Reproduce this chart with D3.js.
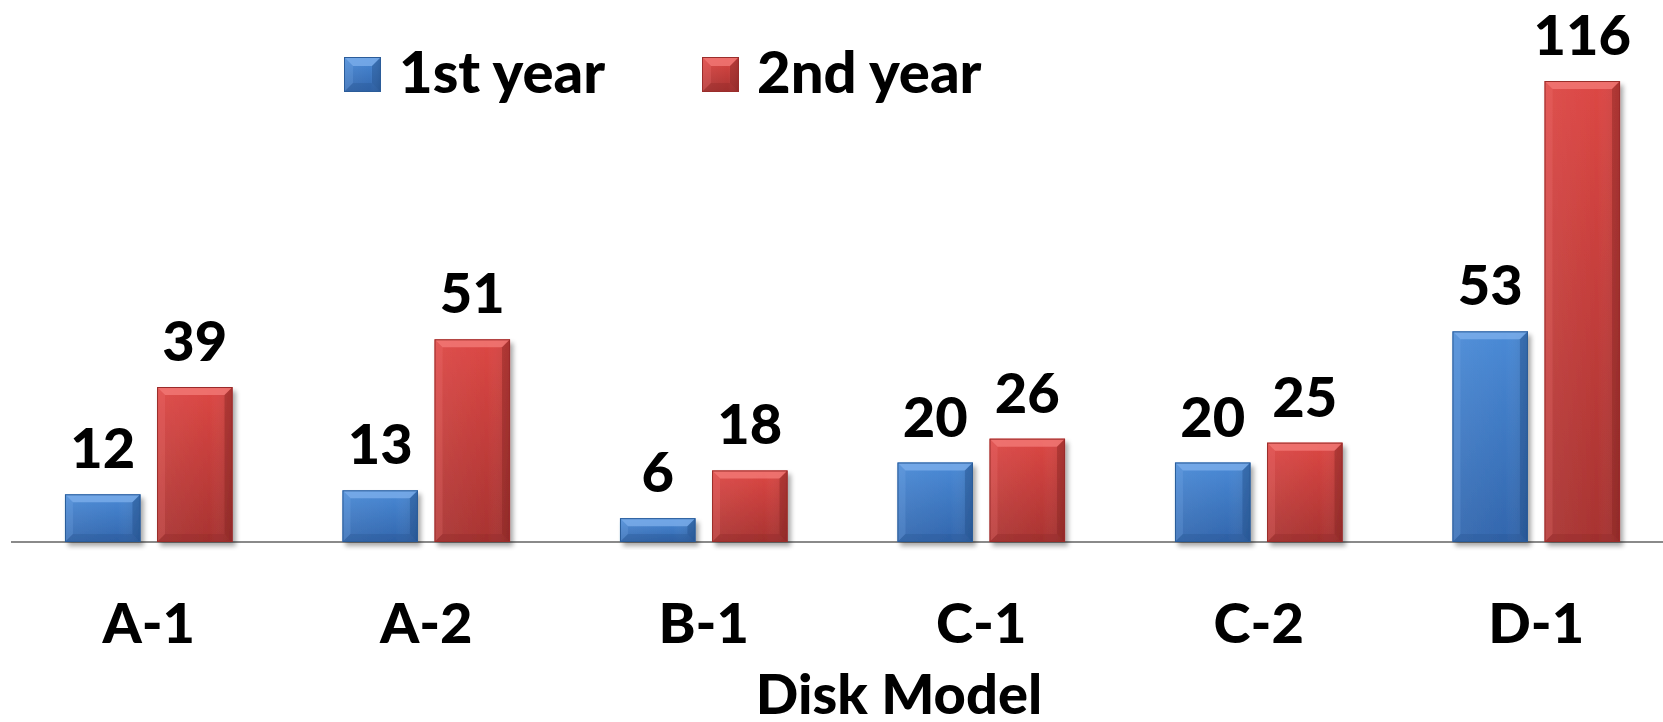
<!DOCTYPE html>
<html>
<head>
<meta charset="utf-8">
<script src="https://cdn.jsdelivr.net/npm/d3@7/dist/d3.min.js"></script>
<style>
  html, body { margin: 0; padding: 0; background: #fff; }
  svg { display: block; }
  text { font-family: "Lato", "Open Sans", sans-serif; font-weight: 900; fill: #000; }
</style>
</head>
<body>
<svg id="chart" width="1663" height="722"></svg>
<script>
const categories = ["A-1", "A-2", "B-1", "C-1", "C-2", "D-1"];
const seriesNames = ["1st year", "2nd year"];
const firstYear = [12, 13, 6, 20, 20, 53];
const secondYear = [39, 51, 18, 26, 25, 116];
const xTitle = "Disk Model";

const seriesValues = [firstYear, secondYear];
const colors = [
  { top: "#4a8ad6", bottom: "#3266ad", light: "#7fb0ec", dark: "#24538f", edge: "#2b5c99" },
  { top: "#dc4744", bottom: "#a83331", light: "#f47c79", dark: "#8a2523", edge: "#9a2d2b" }
];

const svg = d3.select("#chart");
const W = 1663, H = 722;
const baseline = 542;
const fontSize = 56;
const legendFontSize = 58;

const x0 = d3.scaleBand().domain(categories).range([10, 1675]).padding(0);
const x1 = d3.scaleBand().domain(seriesNames).range([0, x0.bandwidth()])
  .paddingInner(0.18).paddingOuter(0.597);
const y = d3.scaleLinear().domain([0, 116]).range([baseline, 81]);

const defs = svg.append("defs");
colors.forEach((c, i) => {
  const g = defs.append("linearGradient").attr("id", "grad" + i)
    .attr("x1", 0).attr("y1", 0).attr("x2", 0).attr("y2", 1);
  g.append("stop").attr("offset", "0%").attr("stop-color", c.top);
  g.append("stop").attr("offset", "100%").attr("stop-color", c.bottom);
  const gh = defs.append("linearGradient").attr("id", "hgrad" + i)
    .attr("x1", 0).attr("y1", 0).attr("x2", 1).attr("y2", 0);
  gh.append("stop").attr("offset", "0%").attr("stop-color", "#fff").attr("stop-opacity", 0.06);
  gh.append("stop").attr("offset", "70%").attr("stop-color", "#fff").attr("stop-opacity", 0);
  gh.append("stop").attr("offset", "100%").attr("stop-color", "#000").attr("stop-opacity", 0.12);
});
const shadow = defs.append("filter").attr("id", "shadow")
  .attr("x", "-20%").attr("y", "-20%").attr("width", "150%").attr("height", "150%");
shadow.append("feGaussianBlur").attr("in", "SourceAlpha").attr("stdDeviation", 2.5).attr("result", "b");
shadow.append("feOffset").attr("in", "b").attr("dx", 3).attr("dy", 4).attr("result", "o");
shadow.append("feComponentTransfer").attr("in", "o").attr("result", "s")
  .append("feFuncA").attr("type", "linear").attr("slope", 0.35);
const merge = shadow.append("feMerge");
merge.append("feMergeNode").attr("in", "s");
merge.append("feMergeNode").attr("in", "SourceGraphic");

// axis line
svg.append("line")
  .attr("x1", 11).attr("x2", W).attr("y1", baseline).attr("y2", baseline)
  .attr("stroke", "#8a8a8a").attr("stroke-width", 2.2);

const pts = a => a.map(p => p.join(",")).join(" ");

function drawBevel(g, x, yTop, w, h, ci, bevel, useShadow) {
  const c = colors[ci];
  const b = Math.min(bevel, h / 2, w / 2);
  const bar = g.append("g");
  if (useShadow) bar.attr("filter", "url(#shadow)");
  bar.append("rect").attr("x", x).attr("y", yTop).attr("width", w).attr("height", h)
    .attr("fill", `url(#grad${ci})`);
  bar.append("rect").attr("x", x).attr("y", yTop).attr("width", w).attr("height", h)
    .attr("fill", `url(#hgrad${ci})`);
  bar.append("polygon").attr("points", pts([[x, yTop], [x + w, yTop], [x + w - b, yTop + b], [x + b, yTop + b]]))
    .attr("fill", c.light).attr("opacity", 0.75);
  bar.append("polygon").attr("points", pts([[x, yTop], [x + b, yTop + b], [x + b, yTop + h - b], [x, yTop + h]]))
    .attr("fill", c.light).attr("opacity", 0.22);
  bar.append("polygon").attr("points", pts([[x + w, yTop], [x + w, yTop + h], [x + w - b, yTop + h - b], [x + w - b, yTop + b]]))
    .attr("fill", c.dark).attr("opacity", 0.45);
  bar.append("polygon").attr("points", pts([[x, yTop + h], [x + b, yTop + h - b], [x + w - b, yTop + h - b], [x + w, yTop + h]]))
    .attr("fill", c.dark).attr("opacity", 0.3);
  bar.append("rect").attr("x", x + 0.5).attr("y", yTop + 0.5).attr("width", w - 1).attr("height", h - 1)
    .attr("fill", "none").attr("stroke", c.edge).attr("stroke-width", 1);
}

const groups = svg.append("g").selectAll("g.group")
  .data(categories).join("g").attr("class", "group")
  .attr("transform", d => `translate(${x0(d)},0)`);

groups.each(function (cat, i) {
  const g = d3.select(this);
  seriesNames.forEach((s, si) => {
    const v = seriesValues[si][i];
    const bx = x1(s), bw = x1.bandwidth();
    const top = y(v), h = baseline - top;
    drawBevel(g, bx, top, bw, h, si, 8, true);
    g.append("text")
      .attr("x", bx + bw / 2).attr("y", top - 26)
      .attr("text-anchor", "middle")
      .attr("font-size", fontSize)
      .text(v);
  });
});

// category labels
svg.append("g").selectAll("text")
  .data(categories).join("text")
  .attr("x", d => x0(d) + x0.bandwidth() / 2)
  .attr("y", 643)
  .attr("text-anchor", "middle")
  .attr("font-size", fontSize)
  .text(d => d);

// axis title
svg.append("text")
  .attr("x", 899).attr("y", 714)
  .attr("text-anchor", "middle")
  .attr("font-size", fontSize)
  .text(xTitle);

// legend
const legendPos = [344, 702];
const legend = svg.append("g").selectAll("g")
  .data(seriesNames).join("g")
  .attr("transform", (d, i) => `translate(${legendPos[i]},0)`);
legend.each(function (d, i) {
  const g = d3.select(this);
  drawBevel(g, 0, 57, 37, 35, i, 9, false);
  g.append("text").attr("x", 55).attr("y", 93).attr("font-size", legendFontSize).text(d);
});
</script>
</body>
</html>
